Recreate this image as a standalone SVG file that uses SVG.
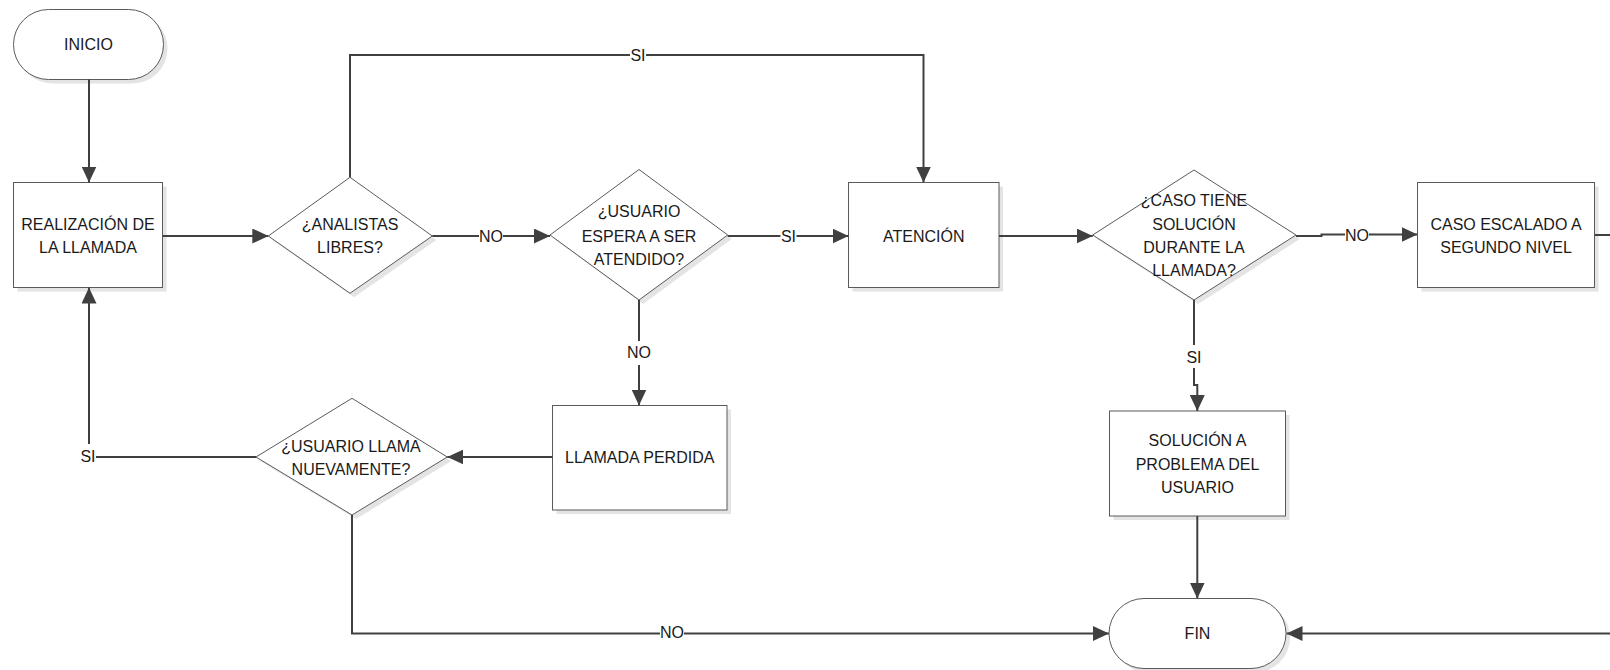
<svg xmlns="http://www.w3.org/2000/svg" width="1610" height="670" viewBox="0 0 1610 670">
<style>
.shape{fill:#ffffff;stroke:#5a5a5a;stroke-width:1}
.shadow{fill:#e4e4e4;stroke:none}
.conn{fill:none;stroke:#404040;stroke-width:2}
.t{font-family:"Liberation Sans",Arial,sans-serif;font-size:16px;fill:#1a1a1a;text-anchor:middle}
.bg{fill:#ffffff;stroke:none}
</style>
<defs>
<marker id="arr" markerUnits="userSpaceOnUse" markerWidth="16" markerHeight="15" refX="16" refY="7.5" orient="auto">
<path d="M0,0 L16,7.5 L0,15 z" fill="#404040"/>
</marker>
</defs>
<rect width="1610" height="670" fill="#ffffff"/>

<g id="inicio">
<rect class="shadow" x="17.5" y="13.5" width="150" height="70" rx="35"/>
<rect class="shape" x="13.5" y="9.5" width="150" height="70" rx="35"/>
<text class="t" x="88.5" y="49.7">INICIO</text>
</g>

<g id="realizacion">
<rect class="shadow" x="17.5" y="186.5" width="149" height="105"/>
<rect class="shape" x="13.5" y="182.5" width="149" height="105"/>
<text class="t" x="88" y="229.7">REALIZACIÓN DE</text>
<text class="t" x="88" y="252.7">LA LLAMADA</text>
</g>

<g id="analistas">
<polygon class="shadow" points="272.3,240 354,181.3 436.3,240 354,297.3"/>
<polygon class="shape" points="268.3,236 350,177.3 432.3,236 350,293.3"/>
<text class="t" x="350" y="229.7">¿ANALISTAS</text>
<text class="t" x="350" y="252.7">LIBRES?</text>
</g>

<g id="espera">
<polygon class="shadow" points="554,239 643,173.5 731.7,239 643,304"/>
<polygon class="shape" points="550,235 639,169.5 727.7,235 639,300"/>
<text class="t" x="639" y="217.4">¿USUARIO</text>
<text class="t" x="639" y="242.4">ESPERA A SER</text>
<text class="t" x="639" y="265">ATENDIDO?</text>
</g>

<g id="atencion">
<rect class="shadow" x="852.5" y="186.5" width="150.5" height="105"/>
<rect class="shape" x="848.5" y="182.5" width="150.5" height="105"/>
<text class="t" x="923.7" y="241.7">ATENCIÓN</text>
</g>

<g id="caso_solucion">
<polygon class="shadow" points="1096.7,239 1198,174 1300,239 1198,304"/>
<polygon class="shape" points="1092.7,235 1194,170 1296,235 1194,300"/>
<text class="t" x="1194" y="205.7">¿CASO TIENE</text>
<text class="t" x="1194" y="229.7">SOLUCIÓN</text>
<text class="t" x="1194" y="253">DURANTE LA</text>
<text class="t" x="1194" y="276.4">LLAMADA?</text>
</g>

<g id="escalado">
<rect class="shadow" x="1421.5" y="186.5" width="177" height="105"/>
<rect class="shape" x="1417.5" y="182.5" width="177" height="105"/>
<text class="t" x="1506" y="229.7">CASO ESCALADO A</text>
<text class="t" x="1506" y="253">SEGUNDO NIVEL</text>
</g>

<g id="solucion">
<rect class="shadow" x="1113.5" y="415" width="176" height="105"/>
<rect class="shape" x="1109.5" y="411" width="176" height="105"/>
<text class="t" x="1197.5" y="446.4">SOLUCIÓN A</text>
<text class="t" x="1197.5" y="470">PROBLEMA DEL</text>
<text class="t" x="1197.5" y="493">USUARIO</text>
</g>

<g id="fin">
<rect class="shadow" x="1113" y="602.5" width="177" height="70" rx="35"/>
<rect class="shape" x="1109" y="598.5" width="177" height="70" rx="35"/>
<text class="t" x="1197.5" y="639">FIN</text>
</g>

<g id="perdida">
<rect class="shadow" x="556.5" y="409.5" width="174.5" height="104.5"/>
<rect class="shape" x="552.5" y="405.5" width="174.5" height="104.5"/>
<text class="t" x="639.7" y="463.4">LLAMADA PERDIDA</text>
</g>

<g id="llama_nuevamente">
<polygon class="shadow" points="260,461 356,402.3 451.3,461 356,519"/>
<polygon class="shape" points="256,457 352,398.3 447.3,457 352,515"/>
<text class="t" x="351" y="452.4">¿USUARIO LLAMA</text>
<text class="t" x="351" y="475">NUEVAMENTE?</text>
</g>

<g id="connectors">
<path class="conn" d="M89,79.5 V182.5" marker-end="url(#arr)"/>
<path class="conn" d="M162.5,236 H268.3" marker-end="url(#arr)"/>
<path class="conn" d="M350,177.3 V55 H923.5 V182.5" marker-end="url(#arr)"/>
<path class="conn" d="M432.3,236 H550" marker-end="url(#arr)"/>
<path class="conn" d="M727.7,236 H848.5" marker-end="url(#arr)"/>
<path class="conn" d="M639,300 V405.5" marker-end="url(#arr)"/>
<path class="conn" d="M999,236 H1092.7" marker-end="url(#arr)"/>
<path class="conn" d="M1296,236 H1321.5 V234.5 H1417.5" marker-end="url(#arr)"/>
<path class="conn" d="M1594.5,235 H1625 V633.5 H1286.5" marker-end="url(#arr)"/>
<path class="conn" d="M1194,300 V385 H1197.3 V411" marker-end="url(#arr)"/>
<path class="conn" d="M1197.3,516 V598.5" marker-end="url(#arr)"/>
<path class="conn" d="M552.5,457 H447.3" marker-end="url(#arr)"/>
<path class="conn" d="M256,457 H89 V287.5" marker-end="url(#arr)"/>
<path class="conn" d="M352,515 V633.5 H1109" marker-end="url(#arr)"/>

<rect class="bg" x="630" y="45" width="16" height="20"/>
<text class="t" x="638" y="60.7">SI</text>
<rect class="bg" x="479" y="226" width="24" height="20"/>
<text class="t" x="491" y="241.7">NO</text>
<rect class="bg" x="780.5" y="226" width="16" height="20"/>
<text class="t" x="788.5" y="241.7">SI</text>
<rect class="bg" x="627" y="341" width="24" height="24"/>
<text class="t" x="639" y="358.4">NO</text>
<rect class="bg" x="1345" y="224" width="24" height="20"/>
<text class="t" x="1357" y="240.7">NO</text>
<rect class="bg" x="1186" y="345" width="16" height="23"/>
<text class="t" x="1194" y="363">SI</text>
<rect class="bg" x="80" y="444" width="16" height="22"/>
<text class="t" x="88" y="461.7">SI</text>
<rect class="bg" x="660" y="623" width="24" height="20"/>
<text class="t" x="672" y="638.4">NO</text>
</g>
</svg>
